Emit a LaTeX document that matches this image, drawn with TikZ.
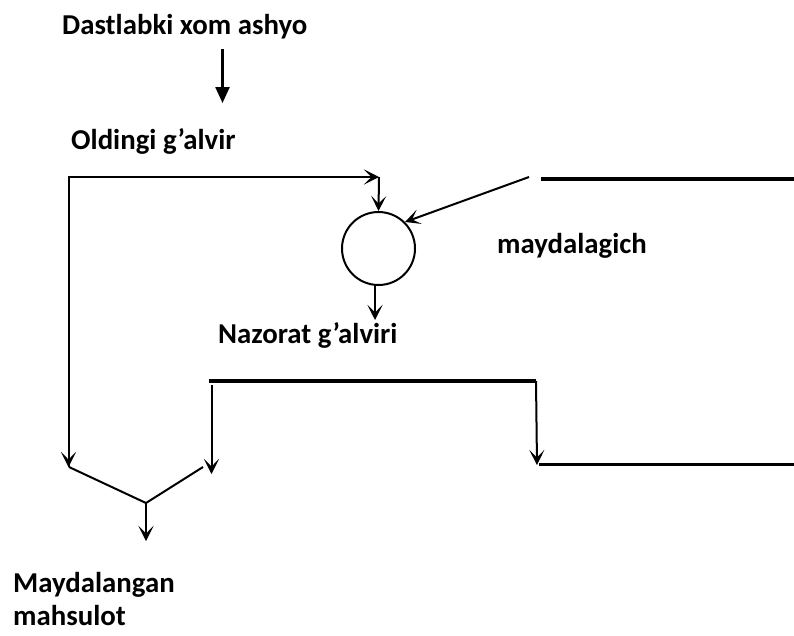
\documentclass[tikz,border=0pt]{standalone}
\usepackage{fontspec}
\setmainfont{Carlito}
\usetikzlibrary{arrows.meta}
\tikzset{
  lbl/.style={anchor=base west, inner sep=0pt, font=\bfseries\fontsize{28.8}{34}\selectfont},
  flow/.style={line width=2pt, -{Stealth[length=15pt,width=15pt,inset=7.5pt]}},
  plain/.style={line width=2pt},
  belt/.style={line width=3.5pt},
  feed/.style={line width=2.4pt, -{Triangle[length=16pt,width=14pt]}},
}
\begin{document}
\begin{tikzpicture}[x=1pt,y=-1pt]
\useasboundingbox (0,0) rectangle (794,635);

% labels
\node[lbl] (raw)   at (62,34)   {Dastlabki xom ashyo};
\node[lbl] (pre)   at (71,149)  {Oldingi g’alvir};
\node[lbl] (ctrl)  at (218,343) {Nazorat g’alviri};
\node[lbl] (mill)  at (497,253) {maydalagich};
\node[lbl] (prod1) at (13,592)  {Maydalangan};
\node[lbl] (prod2) at (13,625)  {mahsulot};

% crusher
\node[draw, circle, line width=2pt, minimum size=73pt, inner sep=0pt] (crusher) at (378.5,248.5) {};

% junction points
\coordinate (feedtop) at (222.5,49);
\coordinate (feedend) at (222.5,103);
\coordinate (lefttop) at (68.5,177);
\coordinate (leftbot) at (68.5,467);
\coordinate (topin)   at (379,177);
\coordinate (vleft)   at (69,467);
\coordinate (vbot)    at (146,503);
\coordinate (vright)  at (203,467);
\coordinate (prodend) at (146,541);
\coordinate (retA)    at (529,177);
\coordinate (retB)    at (541,179);
\coordinate (retC)    at (794,179);
\coordinate (outtop)  at (375,285);
\coordinate (outend)  at (375,320);
\coordinate (scrL)    at (209,381);
\coordinate (scrR)    at (536,381);
\coordinate (fineTop) at (211.5,385);
\coordinate (fineEnd) at (211.5,474);
\coordinate (overEnd) at (537,465);
\coordinate (lowA)    at (539,464.5);
\coordinate (lowB)    at (794,464.5);

% feed arrow
\draw[feed] (feedtop) -- (feedend);

% bypass line from the preliminary screen to the crusher
\draw[flow] (leftbot) -- (lefttop) -- (topin);
\draw[flow] (lefttop) -- (leftbot);
\draw[flow] (topin) -- (crusher.north);

% return line into the crusher
\draw[belt] (retB) -- (retC);
\draw[flow] (retA) -- (crusher.45);

% crusher outlet
\draw[flow] (outtop) -- (outend);

% control screen
\draw[belt] (scrL) -- (scrR);
\draw[flow] (fineTop) -- (fineEnd);
\draw[flow] (scrR) -- (overEnd);
\draw[belt] (lowA) -- (lowB);

% merging of both streams
\draw[plain] (vleft) -- (vbot) -- (vright);
\draw[flow] (vbot) -- (prodend);
\end{tikzpicture}
\end{document}
